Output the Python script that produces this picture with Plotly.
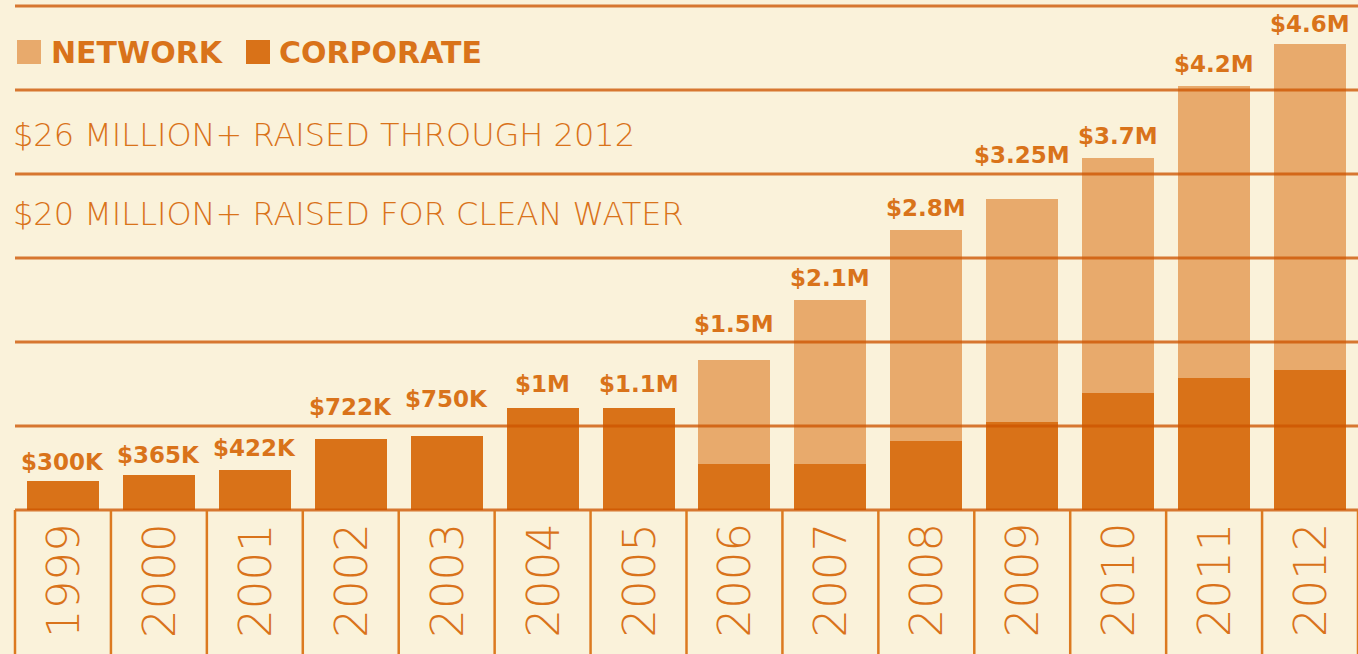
import plotly.graph_objects as go

# ---- data (values in $ millions) ----
years = ["1999", "2000", "2001", "2002", "2003", "2004", "2005",
         "2006", "2007", "2008", "2009", "2010", "2011", "2012"]
corporate = [0.29, 0.35, 0.40, 0.71, 0.74, 1.02, 1.02,
             0.46, 0.46, 0.69, 0.88, 1.17, 1.32, 1.40]
network = [0, 0, 0, 0, 0, 0, 0,
           1.04, 1.64, 2.11, 2.23, 2.35, 2.92, 3.26]
total_labels = ["$300K", "$365K", "$422K", "$722K", "$750K", "$1M", "$1.1M",
                "$1.5M", "$2.1M", "$2.8M", "$3.25M", "$3.7M", "$4.2M", "$4.6M"]
grid_values = [0, 0.84, 1.68, 2.52, 3.36, 4.20, 5.04]
headline_1 = "$26 MILLION+ RAISED THROUGH 2012"
headline_2 = "$20 MILLION+ RAISED FOR CLEAN WATER"

# ---- style ----
BG = "#faf2da"
DARK = "#d97218"
LIGHT = "#e8aa6c"
TEXT = "#d9731a"
LINE = "rgba(205,85,0,0.78)"
SEP = "#dc7a20"
FONT = "DejaVu Sans"
# extra lift (px) of each value label so it clears the rules
label_shift_px = [4, 5, 7, 17, 22, 9, 9, 21, 7, 7, 29, 7, 7, 5]

W_FIG, H_FIG = 1358, 654
L, T, W, H = 15, 0, 1343, 515


def px_x(p):
    return (p - L) / W


def px_y(p):
    return (T + H - p) / H


idx = list(range(len(years)))

fig = go.Figure()
fig.add_trace(go.Bar(x=idx, y=corporate, name="CORPORATE",
                     marker=dict(color=DARK, line=dict(width=0)), showlegend=False))
fig.add_trace(go.Bar(x=idx, y=network, name="NETWORK",
                     marker=dict(color=LIGHT, line=dict(width=0)), showlegend=False))

shapes = []
# horizontal rules drawn above the bars
for g in grid_values:
    shapes.append(dict(type="line", xref="paper", yref="y", x0=0, x1=1, y0=g, y1=g,
                       line=dict(color=LINE, width=3), layer="above"))
# vertical separators in the year band
n = len(years)
for i in range(n + 1):
    xp = i / n
    shapes.append(dict(type="line", xref="paper", yref="paper", x0=xp, x1=xp,
                       y0=px_y(510), y1=px_y(660), line=dict(color=SEP, width=2.5),
                       layer="above"))
# legend squares
shapes.append(dict(type="rect", xref="paper", yref="paper", x0=px_x(17), x1=px_x(41),
                   y0=px_y(64), y1=px_y(40), fillcolor=LIGHT, line=dict(width=0)))
shapes.append(dict(type="rect", xref="paper", yref="paper", x0=px_x(246), x1=px_x(270),
                   y0=px_y(64), y1=px_y(40), fillcolor=DARK, line=dict(width=0)))

annotations = []
# totals above bars
for i, c, nw, lab, sh in zip(idx, corporate, network, total_labels, label_shift_px):
    annotations.append(dict(x=i, y=c + nw, xref="x", yref="y", text=lab, showarrow=False,
                            yanchor="bottom", yshift=sh,
                            font=dict(family=FONT, size=23, color=TEXT, weight=700)))
# year labels (rotated)
for i, yr in zip(idx, years):
    annotations.append(dict(x=i, y=px_y(580), xref="x", yref="paper", text=yr,
                            showarrow=False, textangle=-90, xanchor="center", yanchor="middle",
                            font=dict(family=FONT, size=45, color=TEXT, weight=200)))
# legend text
annotations.append(dict(x=px_x(49), y=px_y(52), xref="paper", yref="paper", text="NETWORK",
                        showarrow=False, xanchor="left", yanchor="middle",
                        font=dict(family=FONT, size=30, color=TEXT, weight=700)))
annotations.append(dict(x=px_x(277), y=px_y(52), xref="paper", yref="paper", text="CORPORATE",
                        showarrow=False, xanchor="left", yanchor="middle",
                        font=dict(family=FONT, size=30, color=TEXT, weight=700)))
# headlines
annotations.append(dict(x=px_x(11), y=px_y(135), xref="paper", yref="paper", text=headline_1,
                        showarrow=False, xanchor="left", yanchor="middle",
                        font=dict(family=FONT, size=32, color=TEXT, weight=200)))
annotations.append(dict(x=px_x(11), y=px_y(214), xref="paper", yref="paper", text=headline_2,
                        showarrow=False, xanchor="left", yanchor="middle",
                        font=dict(family=FONT, size=32, color=TEXT, weight=200)))

fig.update_layout(
    width=W_FIG, height=H_FIG,
    margin=dict(l=L, r=W_FIG - L - W, t=T, b=H_FIG - T - H, pad=0),
    paper_bgcolor=BG, plot_bgcolor=BG,
    barmode="stack", bargap=0.25,
    xaxis=dict(range=[-0.5, len(years) - 0.5], showticklabels=False, showgrid=False,
               zeroline=False, showline=False, ticks="", fixedrange=True),
    yaxis=dict(range=[-0.05, 5.10], showticklabels=False, showgrid=False, zeroline=False,
               showline=False, ticks="", fixedrange=True),
    shapes=shapes, annotations=annotations,
)

fig.write_html("out.html", config={"displayModeBar": False},
               post_script="document.body.style.margin='0';")
